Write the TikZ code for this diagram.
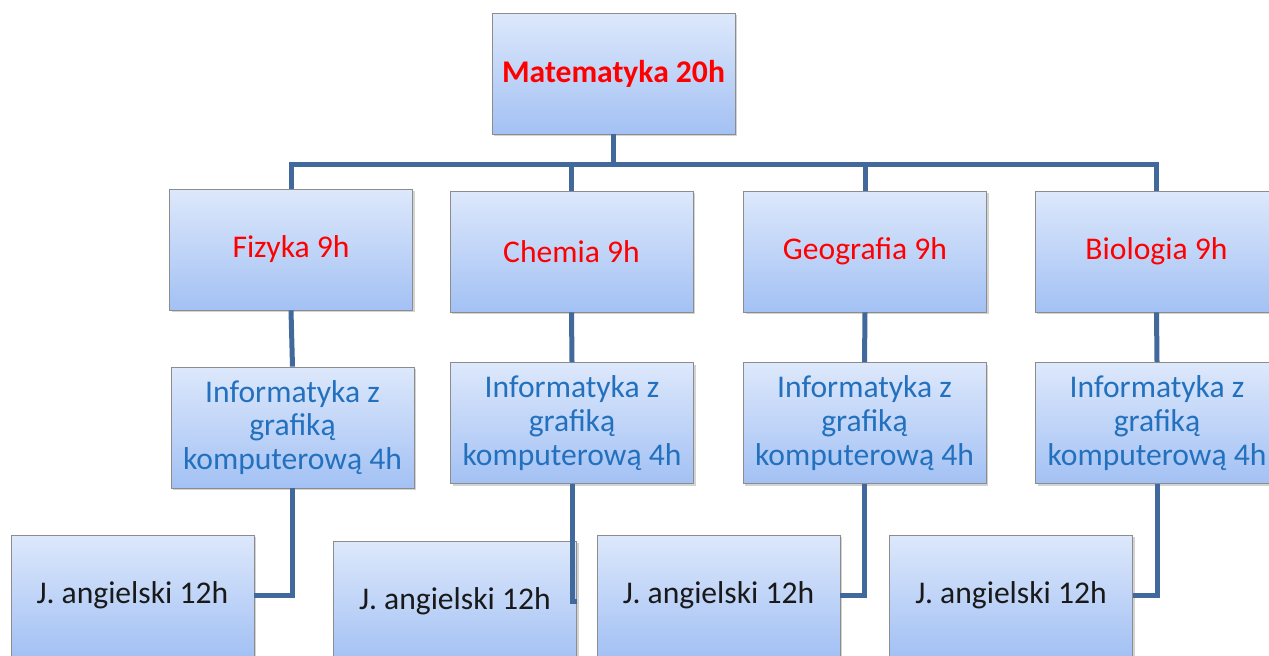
\documentclass[tikz,border=0pt]{standalone}
\usepackage{fontspec}
\setmainfont{Carlito}
\usepackage{tikz}
\usetikzlibrary{positioning, shadows, calc}

\definecolor{linkblue}{RGB}{65,105,156}
\definecolor{boxtop}{RGB}{221,232,251}
\definecolor{boxbot}{RGB}{163,193,244}
\definecolor{infoblue}{RGB}{35,113,190}

\begin{document}
\begin{tikzpicture}[x=0.5pt, y=-0.5pt,
    box/.style={draw=black!45, line width=0.4pt, top color=boxtop, bottom color=boxbot,
        minimum width=121.5pt, minimum height=60.5pt, inner sep=2pt, align=center,
        font=\fontsize{15.8}{16.8}\selectfont,
        drop shadow={shadow xshift=1.2pt, shadow yshift=-1.2pt, opacity=0.35}},
    subj/.style={box, text=red},
    info/.style={box, text=infoblue},
    lang/.style={box, text=black!90},
    link/.style={draw=linkblue, line width=2.5pt}]
    \useasboundingbox (0,0) rectangle (1269,655);
    \clip (0,0) rectangle (1269,655);

    \node[subj, font=\fontsize{15.8}{16.8}\selectfont\bfseries] (mat) at (613.5,73.5) {Matematyka 20h};

    \node[subj] (fiz)  at (291,249.5)    {Fizyka 9h};
    \node[subj] (chem) at (571.5,251.5)  {Chemia 9h};
    \node[subj] (geo)  at (865,251.5)    {Geografia 9h};
    \node[subj] (bio)  at (1156.5,251.5) {Biologia 9h};

    \node[info] (inf1) at (292.5,427.5) {Informatyka z\\grafiką\\komputerową 4h};
    \node[info] (inf2) at (572,423)     {Informatyka z\\grafiką\\komputerową 4h};
    \node[info] (inf3) at (864.5,423)   {Informatyka z\\grafiką\\komputerową 4h};
    \node[info] (inf4) at (1157,423)    {Informatyka z\\grafiką\\komputerową 4h};

    \node[lang] (ang1) at (132.5,595.5) {J. angielski 12h};
    \node[lang] (ang2) at (455,601.5)   {J. angielski 12h};
    \node[lang] (ang3) at (718.5,595.5) {J. angielski 12h};
    \node[lang] (ang4) at (1011,595.5)  {J. angielski 12h};

    \coordinate (bus) at (613.5,164);
    \draw[link] (mat.south) -- (bus);
    \draw[link] (fiz.north) |- (bus) -| (bio.north);
    \draw[link] (chem.north) |- (bus);
    \draw[link] (geo.north) |- (bus);

    \draw[link] (fiz.south) -- (inf1.north);
    \draw[link] (chem.south) -- (inf2.north);
    \draw[link] (geo.south) -- (inf3.north);
    \draw[link] (bio.south) -- (inf4.north);

    \draw[link] (inf1.south) |- (ang1.east);
    \draw[link] (inf2.south) |- (ang2.east);
    \draw[link] (inf3.south) |- (ang3.east);
    \draw[link] (inf4.south) |- (ang4.east);
\end{tikzpicture}
\end{document}
